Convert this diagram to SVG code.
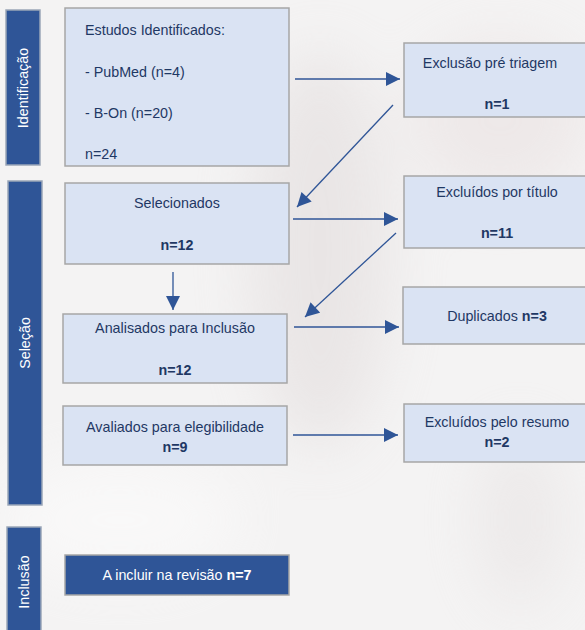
<svg xmlns="http://www.w3.org/2000/svg" width="585" height="630" viewBox="0 0 585 630">
<defs>
<style>
.side{fill:#2f5597;stroke:#9aa6b8;stroke-width:1.5}
.box{fill:#dae3f3;stroke:#a6a6a6;stroke-width:1.5}
.dark{fill:#2f5597;stroke:#a6a6a6;stroke-width:1.5}
text{font-family:"Liberation Sans",Arial,sans-serif;font-size:14.3px;fill:#1f3864}
.c{text-anchor:middle}
.w{fill:#ffffff}
.b{font-weight:bold}
.conn line{stroke:#2f5597;stroke-width:1.3;fill:none}
</style>
<marker id="ah" viewBox="0 0 10 10" refX="10" refY="5" markerWidth="15" markerHeight="14" markerUnits="userSpaceOnUse" orient="auto">
<path d="M0,0 L10,5 L0,10 z" fill="#2f5597"/>
</marker>
<filter id="bl" x="-50%" y="-50%" width="200%" height="200%"><feGaussianBlur stdDeviation="30"/></filter>
</defs>
<rect width="585" height="630" fill="#f4f3f3"/>
<g filter="url(#bl)" opacity="0.45">
<ellipse cx="320" cy="250" rx="70" ry="200" fill="#ddd6d6"/>
<ellipse cx="500" cy="120" rx="90" ry="80" fill="#e6dcdc"/>
<ellipse cx="120" cy="520" rx="120" ry="60" fill="#ffffff"/>
<ellipse cx="520" cy="520" rx="40" ry="90" fill="#e2dddd"/>
</g>

<g id="side-identificacao">
<rect class="side" x="6" y="10" width="34" height="155"/>
<text class="w c" transform="translate(28,88) rotate(-90)">Identificação</text>
</g>
<g id="side-selecao">
<rect class="side" x="8" y="181" width="34" height="324"/>
<text class="w c" transform="translate(30,343) rotate(-90)">Seleção</text>
</g>
<g id="side-inclusao">
<rect class="side" x="7" y="527" width="34" height="110"/>
<text class="w c" transform="translate(29,582) rotate(-90)">Inclusão</text>
</g>

<g id="estudos">
<rect class="box" x="65" y="8" width="224" height="158"/>
<text x="85" y="35">Estudos Identificados:</text>
<text x="85" y="77">- PubMed (n=4)</text>
<text x="85" y="118">- B-On (n=20)</text>
<text x="85" y="159">n=24</text>
</g>
<g id="exclusao">
<rect class="box" x="404" y="43" width="190" height="74"/>
<text class="c" x="490" y="68">Exclusão pré triagem</text>
<text class="c b" x="497" y="109">n=1</text>
</g>
<g id="selecionados">
<rect class="box" x="65" y="183" width="224" height="81"/>
<text class="c" x="177" y="208">Selecionados</text>
<text class="c b" x="177" y="250">n=12</text>
</g>
<g id="excl-titulo">
<rect class="box" x="404" y="176" width="190" height="72"/>
<text class="c" x="497" y="197">Excluídos por título</text>
<text class="c b" x="497" y="238">n=11</text>
</g>
<g id="analisados">
<rect class="box" x="63" y="314" width="224" height="69"/>
<text class="c" x="175" y="333">Analisados para Inclusão</text>
<text class="c b" x="175" y="375">n=12</text>
</g>
<g id="duplicados">
<rect class="box" x="403" y="287" width="190" height="57"/>
<text class="c" x="497" y="321">Duplicados <tspan class="b">n=3</tspan></text>
</g>
<g id="avaliados">
<rect class="box" x="63" y="406" width="224" height="59"/>
<text class="c" x="175" y="432">Avaliados para elegibilidade</text>
<text class="c b" x="175" y="452">n=9</text>
</g>
<g id="excl-resumo">
<rect class="box" x="404" y="404" width="190" height="58"/>
<text class="c" x="497" y="427">Excluídos pelo resumo</text>
<text class="c b" x="497" y="447">n=2</text>
</g>
<g id="incluir">
<rect class="dark" x="65" y="555" width="224" height="40"/>
<text class="c w" x="177" y="580">A incluir na revisão <tspan class="b w">n=7</tspan></text>
</g>

<g id="connectors" class="conn">
<line x1="295" y1="79" x2="400" y2="79" marker-end="url(#ah)"/>
<line x1="393" y1="105" x2="297" y2="207" marker-end="url(#ah)"/>
<line x1="293" y1="219" x2="398" y2="219" marker-end="url(#ah)"/>
<line x1="396" y1="233" x2="305" y2="317" marker-end="url(#ah)"/>
<line x1="173" y1="272" x2="173" y2="310" marker-end="url(#ah)"/>
<line x1="294" y1="327" x2="399" y2="327" marker-end="url(#ah)"/>
<line x1="293" y1="435" x2="398" y2="435" marker-end="url(#ah)"/>
</g>
</svg>
